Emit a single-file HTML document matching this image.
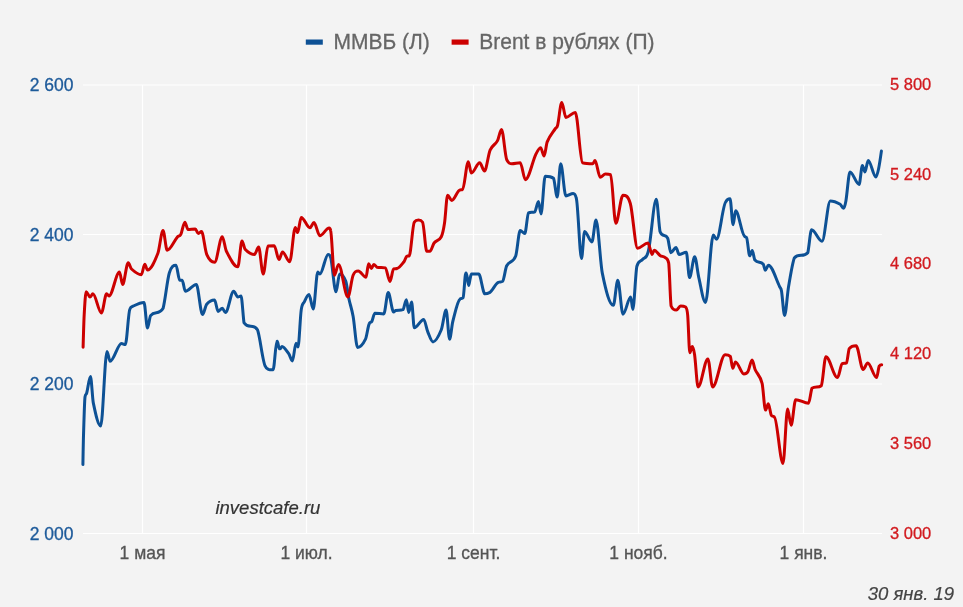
<!DOCTYPE html>
<html><head><meta charset="utf-8">
<style>
html,body{margin:0;padding:0;background:#f3f3f3;}
body{width:963px;height:607px;overflow:hidden;position:relative;font-family:"Liberation Sans",sans-serif;}
svg{position:absolute;left:0;top:0;filter:blur(0.4px);}
</style></head><body>
<svg width="963" height="607" viewBox="0 0 963 607" font-family="Liberation Sans, sans-serif">
<rect width="963" height="607" fill="#f3f3f3"/>
<g stroke="#ffffff" stroke-width="1.2" fill="none">
<path d="M83 85H882M83 234.5H882M83 384H882M83 533.5H882"/>
<path d="M142.5 85V533.5M306.5 85V533.5M473.5 85V533.5M638.5 85V533.5M803.5 85V533.5"/>
</g>
<path d="M82.90 464.60 C82.90 464.60 83.23 444.37 83.40 439.00 C83.93 421.83 84.47 401.00 85.00 397.00 C85.57 393.00 86.13 395.10 86.70 393.00 C87.97 388.30 89.23 376.60 90.50 376.60 C91.43 376.60 92.37 398.38 93.30 402.90 C95.77 414.85 98.23 426.00 100.70 426.00 C102.80 426.00 104.90 351.50 107.00 351.50 C108.03 351.50 109.07 361.30 110.10 361.30 C113.90 361.30 117.70 343.60 121.50 343.60 C122.77 343.60 124.03 344.60 125.30 344.60 C126.80 344.60 128.30 312.40 129.80 309.30 C130.87 306.20 131.93 306.71 133.00 306.20 C136.67 304.44 140.33 302.50 144.00 302.50 C145.17 302.50 146.33 328.00 147.50 328.00 C148.53 328.00 149.57 316.90 150.60 315.60 C154.77 310.34 158.93 315.60 163.10 308.30 C165.17 301.00 167.23 279.90 169.30 273.00 C171.53 265.54 173.77 265.20 176.00 265.20 C177.23 265.20 178.47 280.30 179.70 280.30 C180.53 280.30 181.37 280.30 182.20 280.30 C183.23 280.30 184.27 291.30 185.30 291.30 C188.97 291.30 192.63 284.50 196.30 284.50 C198.37 284.50 200.43 314.50 202.50 314.50 C203.90 314.50 205.30 305.88 206.70 304.20 C209.33 301.04 211.97 300.00 214.60 300.00 C215.77 300.00 216.93 311.40 218.10 311.40 C219.50 311.40 220.90 308.30 222.30 308.30 C223.33 308.30 224.37 312.50 225.40 312.50 C228.17 312.50 230.93 291.30 233.70 291.30 C235.07 291.30 236.43 297.00 237.80 297.00 C238.87 297.00 239.93 296.00 241.00 296.00 C242.00 296.00 243.00 315.80 244.00 322.80 C248.50 329.80 253.00 322.80 257.50 329.80 C260.17 336.80 262.83 363.70 265.50 366.50 C266.50 369.30 267.50 368.80 268.50 369.30 C269.67 369.80 270.83 369.80 272.00 369.80 C272.37 369.80 272.73 369.80 273.10 369.70 C274.37 369.60 275.63 341.70 276.90 341.50 C277.03 341.30 277.17 341.30 277.30 341.30 C277.97 341.30 278.63 348.20 279.30 348.50 C279.53 348.80 279.77 348.80 280.00 348.80 C280.67 348.80 281.33 346.50 282.00 346.50 C284.23 346.50 286.47 350.59 288.70 353.70 C289.93 355.42 291.17 361.00 292.40 361.00 C293.60 361.00 294.80 343.30 296.00 343.30 C296.67 343.30 297.33 346.90 298.00 346.90 C299.07 346.90 300.13 317.74 301.20 310.10 C302.23 302.70 303.27 303.87 304.30 301.80 C305.87 298.67 307.43 294.50 309.00 294.50 C310.40 294.50 311.80 309.10 313.20 309.10 C314.73 309.10 316.27 272.00 317.80 272.00 C318.47 272.00 319.13 274.10 319.80 274.10 C322.60 274.10 325.40 254.40 328.20 254.40 C328.87 254.40 329.53 254.40 330.20 256.50 C332.13 258.60 334.07 291.80 336.00 291.80 C337.20 291.80 338.40 274.10 339.60 274.10 C341.67 274.10 343.73 275.93 345.80 281.40 C346.83 284.13 347.87 293.76 348.90 298.70 C350.30 305.39 351.70 308.45 353.10 316.30 C354.60 324.71 356.10 347.50 357.60 347.50 C360.23 347.50 362.87 344.58 365.50 339.20 C366.77 336.61 368.03 325.70 369.30 323.60 C370.13 321.50 370.97 323.05 371.80 321.50 C372.83 319.58 373.87 313.20 374.90 313.20 C377.87 313.20 380.83 313.90 383.80 313.90 C385.27 313.90 386.73 292.60 388.20 292.60 C390.00 292.60 391.80 312.00 393.60 312.00 C394.27 312.00 394.93 310.66 395.60 310.50 C398.03 309.90 400.47 310.50 402.90 309.70 C404.07 308.90 405.23 299.80 406.40 299.80 C407.17 299.80 407.93 312.50 408.70 312.50 C409.67 312.50 410.63 302.00 411.60 302.00 C412.50 302.00 413.40 327.80 414.30 327.80 C417.43 327.80 420.57 319.50 423.70 319.50 C425.07 319.50 426.43 328.61 427.80 331.90 C429.53 336.07 431.27 341.90 433.00 341.90 C435.77 341.90 438.53 336.54 441.30 329.80 C442.90 325.90 444.50 310.00 446.10 310.00 C447.27 310.00 448.43 339.20 449.60 339.20 C450.67 339.20 451.73 325.61 452.80 321.50 C455.20 312.25 457.60 300.50 460.00 299.10 C461.03 297.70 462.07 299.10 463.10 297.70 C464.00 296.30 464.90 273.20 465.80 273.10 C465.97 273.00 466.13 273.00 466.30 273.00 C467.10 273.00 467.90 285.50 468.70 285.50 C469.13 285.50 469.57 281.13 470.00 279.30 C470.47 277.33 470.93 274.10 471.40 274.10 C473.83 274.10 476.27 274.10 478.70 274.10 C480.77 274.10 482.83 293.80 484.90 293.80 C486.30 293.80 487.70 293.80 489.10 292.80 C492.20 291.80 495.30 283.40 498.40 282.40 C499.80 281.40 501.20 282.40 502.60 281.40 C503.97 280.40 505.33 268.45 506.70 265.80 C509.70 259.98 512.70 263.84 515.70 256.00 C517.20 252.08 518.70 230.50 520.20 230.50 C521.73 230.50 523.27 233.60 524.80 233.60 C526.03 233.60 527.27 213.80 528.50 212.80 C530.60 211.80 532.70 212.80 534.80 211.80 C536.03 210.80 537.27 201.40 538.50 201.40 C539.33 201.40 540.17 213.90 541.00 213.90 C542.40 213.90 543.80 176.20 545.20 176.20 C547.97 176.20 550.73 176.20 553.50 178.30 C554.73 180.40 555.97 197.00 557.20 197.00 C558.37 197.00 559.53 163.70 560.70 163.70 C562.43 163.70 564.17 195.90 565.90 195.90 C568.33 195.90 570.77 193.40 573.20 193.40 C574.23 193.40 575.27 193.40 576.30 198.30 C578.03 203.20 579.77 258.50 581.50 258.50 C582.53 258.50 583.57 231.50 584.60 231.50 C587.03 231.50 589.47 241.90 591.90 241.90 C593.27 241.90 594.63 220.10 596.00 220.10 C598.10 220.10 600.20 262.76 602.30 273.10 C605.97 291.16 609.63 305.30 613.30 305.30 C614.80 305.30 616.30 280.30 617.80 280.30 C619.53 280.30 621.27 314.20 623.00 314.20 C625.57 314.20 628.13 297.00 630.70 297.00 C631.40 297.00 632.10 309.40 632.80 309.40 C634.13 309.40 635.47 273.50 636.80 266.50 C638.70 259.50 640.60 261.91 642.50 259.50 C644.33 257.18 646.17 259.50 648.00 252.30 C650.77 245.10 653.53 199.30 656.30 199.30 C657.53 199.30 658.77 224.80 660.00 231.50 C662.57 238.20 665.13 233.16 667.70 238.20 C668.73 240.23 669.77 252.70 670.80 252.70 C672.53 252.70 674.27 247.50 676.00 247.50 C677.03 247.50 678.07 254.40 679.10 254.40 C681.50 254.40 683.90 252.30 686.30 252.30 C687.37 252.30 688.43 277.60 689.50 277.60 C691.23 277.60 692.97 256.80 694.70 256.80 C696.07 256.80 697.43 271.82 698.80 277.60 C701.03 287.05 703.27 302.50 705.50 302.50 C708.10 302.50 710.70 235.00 713.30 235.00 C714.37 235.00 715.43 239.20 716.50 239.20 C719.60 239.20 722.70 204.90 725.80 201.80 C727.20 198.70 728.60 198.70 730.00 198.70 C731.03 198.70 732.07 224.70 733.10 224.70 C733.93 224.70 734.77 210.70 735.60 210.70 C738.57 210.70 741.53 234.50 744.50 236.10 C745.20 237.70 745.90 236.10 746.60 237.70 C747.63 239.30 748.67 255.80 749.70 255.80 C750.53 255.80 751.37 250.60 752.20 250.60 C753.10 250.60 754.00 258.90 754.90 260.00 C757.67 263.40 760.43 261.36 763.20 264.10 C763.90 264.79 764.60 270.30 765.30 270.30 C766.33 270.30 767.37 265.20 768.40 265.20 C772.20 265.20 776.00 279.52 779.80 287.00 C780.37 288.12 780.93 287.64 781.50 291.00 C782.53 297.14 783.57 315.50 784.60 315.50 C785.90 315.50 787.20 294.72 788.50 287.00 C790.43 275.52 792.37 263.10 794.30 257.90 C798.80 252.70 803.30 257.90 807.80 252.70 C809.07 247.50 810.33 229.80 811.60 229.80 C815.07 229.80 818.53 241.30 822.00 241.30 C824.77 241.30 827.53 200.90 830.30 200.90 C833.60 200.90 836.90 202.35 840.20 204.20 C841.30 204.82 842.40 208.30 843.50 208.30 C844.30 208.30 845.10 205.37 845.90 200.90 C847.27 193.27 848.63 172.00 850.00 172.00 C853.03 172.00 856.07 184.40 859.10 184.40 C860.20 184.40 861.30 165.40 862.40 165.40 C863.23 165.40 864.07 172.00 864.90 172.00 C866.00 172.00 867.10 160.50 868.20 160.50 C870.77 160.50 873.33 177.00 875.90 177.00 C876.80 177.00 877.70 172.94 878.60 168.70 C879.53 164.30 881.40 151.10 881.40 151.10" fill="none" stroke="#0d5195" stroke-width="3" stroke-linejoin="round" stroke-linecap="round"/>
<path d="M83.10 347.30 C83.10 347.30 83.83 321.18 84.20 314.60 C84.87 302.64 85.53 291.70 86.20 291.70 C87.47 291.70 88.73 297.00 90.00 297.00 C90.97 297.00 91.93 293.80 92.90 293.80 C95.73 293.80 98.57 313.00 101.40 313.00 C103.13 313.00 104.87 293.80 106.60 293.80 C107.40 293.80 108.20 296.00 109.00 296.00 C112.50 296.00 116.00 272.00 119.50 272.00 C120.53 272.00 121.57 284.50 122.60 284.50 C124.47 284.50 126.33 262.70 128.20 262.70 C129.30 262.70 130.40 267.99 131.50 269.00 C134.77 271.99 138.03 274.70 141.30 274.70 C142.47 274.70 143.63 264.30 144.80 264.30 C145.70 264.30 146.60 270.00 147.50 270.00 C150.97 270.00 154.43 262.13 157.90 253.30 C159.60 248.97 161.30 230.50 163.00 230.50 C164.40 230.50 165.80 250.20 167.20 250.20 C170.67 250.20 174.13 240.71 177.60 236.70 C178.63 235.51 179.67 236.65 180.70 234.60 C182.10 231.82 183.50 222.20 184.90 222.20 C185.93 222.20 186.97 229.50 188.00 229.50 C190.43 229.50 192.87 229.00 195.30 229.00 C196.33 229.00 197.37 233.60 198.40 233.60 C199.43 233.60 200.47 231.50 201.50 231.50 C203.23 231.50 204.97 250.32 206.70 254.40 C209.33 260.59 211.97 262.30 214.60 262.30 C217.17 262.30 219.73 236.70 222.30 236.70 C223.67 236.70 225.03 248.65 226.40 251.30 C230.20 258.68 234.00 266.80 237.80 266.80 C239.20 266.80 240.60 240.90 242.00 240.90 C243.03 240.90 244.07 248.08 245.10 249.20 C248.23 252.58 251.37 254.40 254.50 254.40 C255.87 254.40 257.23 247.10 258.60 247.10 C260.13 247.10 261.67 274.10 263.20 274.10 C264.80 274.10 266.40 246.30 268.00 246.00 C270.07 245.70 272.13 245.70 274.20 245.70 C275.80 245.70 277.40 259.60 279.00 259.60 C280.17 259.60 281.33 251.90 282.50 251.90 C284.90 251.90 287.30 261.70 289.70 261.70 C291.57 261.70 293.43 227.40 295.30 227.40 C296.07 227.40 296.83 232.60 297.60 232.60 C298.80 232.60 300.00 217.40 301.20 217.40 C304.10 217.40 307.00 227.80 309.90 227.80 C311.27 227.80 312.63 222.60 314.00 222.60 C315.93 222.60 317.87 235.70 319.80 235.70 C322.93 235.70 326.07 228.00 329.20 228.00 C329.67 228.00 330.13 228.00 330.60 230.50 C331.87 233.00 333.13 275.20 334.40 275.20 C335.77 275.20 337.13 264.40 338.50 264.40 C341.63 264.40 344.77 297.00 347.90 297.00 C349.63 297.00 351.37 279.40 353.10 275.20 C354.83 271.00 356.57 271.00 358.30 271.00 C360.87 271.00 363.43 277.20 366.00 277.20 C366.87 277.20 367.73 263.70 368.60 263.70 C369.53 263.70 370.47 268.50 371.40 268.50 C372.20 268.50 373.00 264.40 373.80 264.40 C374.87 264.40 375.93 266.70 377.00 267.30 C379.77 267.90 382.53 267.30 385.30 267.90 C386.87 268.50 388.43 281.40 390.00 281.40 C391.20 281.40 392.40 269.30 393.60 268.90 C394.73 268.50 395.87 268.90 397.00 268.50 C399.33 268.10 401.67 264.59 404.00 261.70 C405.03 260.42 406.07 256.00 407.10 256.00 C407.77 256.00 408.43 256.00 409.10 256.00 C410.83 256.00 412.57 224.30 414.30 222.20 C415.70 220.10 417.10 220.10 418.50 220.10 C419.87 220.10 421.23 220.10 422.60 222.20 C424.00 224.30 425.40 251.30 426.80 251.30 C427.83 251.30 428.87 251.30 429.90 251.30 C431.30 251.30 432.70 244.79 434.10 243.00 C436.50 239.93 438.90 241.27 441.30 236.70 C442.37 234.67 443.43 230.23 444.50 223.20 C445.53 216.39 446.57 195.20 447.60 195.20 C448.97 195.20 450.33 200.40 451.70 200.40 C454.47 200.40 457.23 190.30 460.00 190.00 C460.83 189.70 461.67 190.00 462.50 189.70 C464.43 189.40 466.37 161.70 468.30 161.70 C469.33 161.70 470.37 173.10 471.40 173.10 C474.17 173.10 476.93 162.70 479.70 162.70 C481.30 162.70 482.90 171.00 484.50 171.00 C486.37 171.00 488.23 154.56 490.10 150.20 C492.53 144.52 494.97 145.32 497.40 140.90 C498.77 138.42 500.13 129.50 501.50 129.50 C503.23 129.50 504.97 155.50 506.70 159.60 C508.43 163.70 510.17 163.70 511.90 163.70 C514.67 163.70 517.43 162.70 520.20 162.70 C521.93 162.70 523.67 179.70 525.40 179.70 C528.87 179.70 532.33 161.70 535.80 154.40 C537.40 151.03 539.00 147.70 540.60 147.70 C541.77 147.70 542.93 156.00 544.10 156.00 C545.13 156.00 546.17 144.40 547.20 141.90 C549.97 135.20 552.73 132.82 555.50 128.40 C556.20 127.28 556.90 128.18 557.60 125.30 C559.00 119.54 560.40 102.50 561.80 102.50 C563.17 102.50 564.53 117.40 565.90 117.40 C569.03 117.40 572.17 112.40 575.30 112.40 C577.70 112.40 580.10 161.70 582.50 162.70 C585.97 163.70 589.43 163.70 592.90 163.70 C593.60 163.70 594.30 160.60 595.00 160.60 C596.73 160.60 598.47 177.20 600.20 177.20 C601.93 177.20 603.67 174.10 605.40 174.10 C607.13 174.10 608.87 174.10 610.60 174.70 C612.33 175.30 614.07 223.20 615.80 223.20 C618.20 223.20 620.60 195.20 623.00 195.20 C625.43 195.20 627.87 195.20 630.30 203.50 C632.73 211.80 635.17 248.20 637.60 248.20 C641.07 248.20 644.53 243.00 648.00 243.00 C649.37 243.00 650.73 254.40 652.10 254.40 C652.80 254.40 653.50 250.20 654.20 250.20 C656.13 250.20 658.07 254.09 660.00 255.40 C661.87 256.66 663.73 256.25 665.60 257.90 C666.63 258.81 667.67 257.90 668.70 263.10 C669.50 268.30 670.30 301.90 671.10 306.00 C672.83 310.10 674.57 310.10 676.30 310.10 C677.70 310.10 679.10 306.00 680.50 306.00 C682.20 306.00 683.90 306.00 685.60 307.00 C686.30 308.00 687.00 307.68 687.70 315.30 C688.40 322.92 689.10 352.70 689.80 352.70 C690.63 352.70 691.47 346.50 692.30 346.50 C693.07 346.50 693.83 349.45 694.60 354.80 C695.77 362.95 696.93 387.00 698.10 387.00 C701.37 387.00 704.63 358.90 707.90 358.90 C709.47 358.90 711.03 387.00 712.60 387.00 C716.77 387.00 720.93 354.80 725.10 354.80 C726.83 354.80 728.57 354.80 730.30 356.40 C731.13 358.00 731.97 368.30 732.80 368.30 C733.70 368.30 734.60 362.00 735.50 362.00 C738.27 362.00 741.03 373.90 743.80 373.90 C745.20 373.90 746.60 373.74 748.00 371.40 C749.37 369.11 750.73 360.00 752.10 360.00 C753.10 360.00 754.10 367.16 755.10 369.50 C757.43 374.96 759.77 374.29 762.10 383.40 C763.23 387.82 764.37 410.10 765.50 410.10 C766.43 410.10 767.37 403.80 768.30 403.80 C769.33 403.80 770.37 413.90 771.40 415.50 C772.40 417.10 773.40 415.50 774.40 417.10 C777.27 418.70 780.13 463.50 783.00 463.50 C784.53 463.50 786.07 409.00 787.60 409.00 C788.77 409.00 789.93 425.20 791.10 425.20 C792.63 425.20 794.17 399.70 795.70 399.70 C799.97 399.70 804.23 403.20 808.50 403.20 C809.67 403.20 810.83 390.50 812.00 388.10 C815.10 385.70 818.20 388.10 821.30 385.70 C822.83 383.30 824.37 356.70 825.90 356.70 C829.77 356.70 833.63 377.60 837.50 377.60 C839.07 377.60 840.63 364.40 842.20 363.70 C843.60 363.00 845.00 363.70 846.40 363.00 C847.33 362.30 848.27 351.40 849.20 348.60 C851.50 345.80 853.80 345.80 856.10 345.80 C858.43 345.80 860.77 369.50 863.10 369.50 C864.63 369.50 866.17 363.00 867.70 363.00 C870.67 363.00 873.63 377.60 876.60 377.60 C877.50 377.60 878.40 367.20 879.30 366.00 C880.10 364.80 881.70 364.80 881.70 364.80" fill="none" stroke="#cc0000" stroke-width="3" stroke-linejoin="round" stroke-linecap="round"/>
<g font-size="17.5" fill="#1d5a9a" stroke="#1d5a9a" stroke-width="0.3"><text transform="translate(73.4 90.5) scale(1 1.1)" text-anchor="end">2 600</text><text transform="translate(73.4 240.5) scale(1 1.1)" text-anchor="end">2 400</text><text transform="translate(73.4 390) scale(1 1.1)" text-anchor="end">2 200</text><text transform="translate(73.4 539.5) scale(1 1.1)" text-anchor="end">2 000</text></g>
<g font-size="16.5" fill="#d21a1f" stroke="#d21a1f" stroke-width="0.3"><text transform="translate(890 90) scale(1 1.0)" text-anchor="start">5 800</text><text transform="translate(890 179.7) scale(1 1.0)" text-anchor="start">5 240</text><text transform="translate(890 269.4) scale(1 1.0)" text-anchor="start">4 680</text><text transform="translate(890 359.1) scale(1 1.0)" text-anchor="start">4 120</text><text transform="translate(890 448.8) scale(1 1.0)" text-anchor="start">3 560</text><text transform="translate(890 538.5) scale(1 1.0)" text-anchor="start">3 000</text></g>
<g font-size="17.5" fill="#555" stroke="#555" stroke-width="0.3"><text transform="translate(142.5 559) scale(1 1.055)" text-anchor="middle">1 мая</text><text transform="translate(306.5 559) scale(1 1.055)" text-anchor="middle">1 июл.</text><text transform="translate(473.5 559) scale(1 1.055)" text-anchor="middle">1 сент.</text><text transform="translate(638.5 559) scale(1 1.055)" text-anchor="middle">1 нояб.</text><text transform="translate(803.5 559) scale(1 1.055)" text-anchor="middle">1 янв.</text></g>
<g fill="#333" stroke="#333" stroke-width="0.2" font-style="italic" font-size="18.5"><text transform="translate(267.9 513.8) scale(1 1.0)" text-anchor="middle">investcafe.ru</text></g>
<g fill="#444" stroke="#444" stroke-width="0.2" font-style="italic" font-size="18.5"><text transform="translate(954 600) scale(1 1.0)" text-anchor="end">30 янв. 19</text></g>
<rect x="305.8" y="39.5" width="17" height="5.2" fill="#0d5195"/>
<rect x="451.6" y="39.5" width="17" height="5.2" fill="#cc0000"/>
<g font-size="21" fill="#666" stroke="#666" stroke-width="0.3"><text transform="translate(333.5 48.8) scale(1 1.03)" text-anchor="start">ММВБ (Л)</text><text transform="translate(479.3 48.8) scale(1 1.03)" text-anchor="start">Brent в рублях (П)</text></g>
</svg>
</body></html>
